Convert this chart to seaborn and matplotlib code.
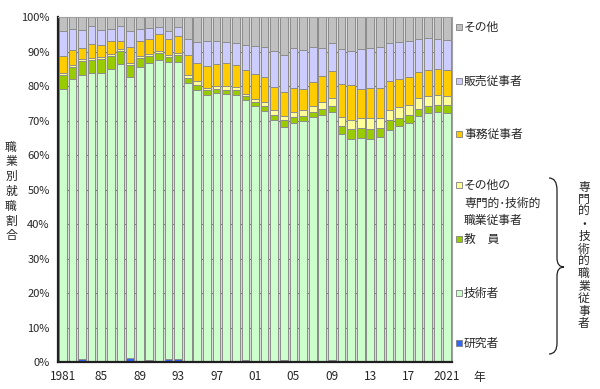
import numpy as np
import pandas as pd
import matplotlib
matplotlib.use("Agg")
import matplotlib.pyplot as plt
from matplotlib.patches import Rectangle, PathPatch
from matplotlib.path import Path
import seaborn as sns

# ---------- data (shares in %) ----------
years = list(range(1981, 2022))

researchers = [0.4, 0.3, 0.8, 0.3, 0.1, 0.1, 0.2, 1.3, 0.4, 0.6, 0.3, 0.8, 0.8, 0.4,
               0.2, 0.2, 0.2, 0.4, 0.4, 0.5, 0.3, 0.4, 0.4, 0.5, 0.3, 0.3, 0.4, 0.3,
               0.6, 0.2, 0.2, 0.2, 0.2, 0.2, 0.2, 0.2, 0.2, 0.3, 0.3, 0.2, 0.2]
engineers = [78.8, 81.9, 82.5, 83.5, 83.7, 84.9, 86.2, 81.5, 85.3, 86.1, 87.2, 86.1, 86.3, 80.6,
             78.7, 77.2, 77.8, 77.3, 77.2, 75.5, 73.9, 72.4, 69.7, 67.7, 69.1, 69.5, 70.7, 71.5,
             71.9, 65.8, 64.6, 64.8, 64.5, 65.1, 67.2, 68.2, 69.2, 71.0, 71.8, 72.3, 72.1]
teachers = [4.0, 3.4, 3.9, 3.9, 4.2, 3.7, 3.8, 3.3, 2.6, 2.1, 2.1, 1.5, 2.0, 1.5,
            1.5, 1.4, 1.3, 1.3, 1.2, 1.1, 1.1, 1.4, 1.7, 1.9, 1.7, 1.7, 1.3, 1.6,
            1.7, 2.6, 2.8, 2.9, 2.9, 2.6, 2.7, 2.4, 2.4, 2.2, 2.1, 2.0, 2.2]
other_prof = [0.6, 0.6, 0.6, 0.6, 0.6, 0.6, 0.5, 0.6, 0.6, 0.6, 0.6, 0.6, 0.5, 0.7,
              1.0, 0.8, 0.8, 1.0, 0.9, 0.7, 1.0, 1.1, 1.4, 1.4, 1.5, 1.7, 1.8, 1.9,
              2.4, 2.5, 2.7, 2.9, 3.2, 2.9, 2.9, 3.2, 2.9, 3.1, 3.0, 3.0, 2.7]
clerical = [5.0, 4.2, 3.2, 3.9, 3.3, 3.7, 2.4, 4.6, 4.2, 4.2, 5.0, 4.6, 5.1, 6.0,
            5.3, 6.4, 6.3, 6.7, 6.5, 7.0, 7.3, 7.4, 6.6, 6.7, 6.9, 6.1, 6.9, 7.8,
            7.7, 9.6, 10.1, 8.4, 8.7, 8.7, 8.4, 8.1, 8.0, 7.4, 7.6, 7.4, 7.6]
sales = [7.1, 6.1, 5.3, 5.3, 4.4, 3.5, 4.5, 4.6, 3.4, 3.2, 2.1, 2.4, 2.4, 4.4,
         6.1, 7.2, 6.7, 6.2, 6.3, 7.2, 8.1, 8.8, 10.3, 10.9, 11.5, 11.1, 10.2, 8.1,
         8.2, 10.0, 9.9, 11.5, 11.7, 12.0, 11.1, 10.6, 10.3, 9.6, 9.1, 8.7, 8.6]
others = [4.1, 3.5, 3.7, 2.5, 3.7, 3.5, 2.4, 4.1, 3.5, 3.2, 2.7, 4.0, 2.9, 6.4,
          7.2, 6.8, 6.9, 7.1, 7.5, 8.0, 8.3, 8.5, 9.9, 10.9, 9.0, 9.6, 8.7, 8.8,
          7.5, 9.3, 9.7, 9.3, 8.8, 8.5, 7.5, 7.3, 7.0, 6.4, 6.1, 6.4, 6.6]

tick_years = [1981, 1985, 1989, 1993, 1997, 2001, 2005, 2009, 2013, 2017, 2021]
tick_labels = ["1981", "85", "89", "93", "97", "01", "05", "09", "13", "17", "2021"]

series_names = ["研究者", "技術者", "教　員", "その他専門", "事務従事者", "販売従事者", "その他"]
colors = ["#3366FF", "#CCFFCC", "#99CC00", "#FFFF99", "#FFCC00", "#CCCCFF", "#C0C0C0"]

# ---------- setup ----------
sns.set_style("white")
plt.rcParams["font.family"] = ["Noto Sans CJK JP", "DejaVu Sans"]

W, H = 600, 389


def fx(x):
    return x / W


def fy(y):
    return 1 - y / H


df = pd.DataFrame({
    "year": [str(y) for y in years],
    "研究者": researchers,
    "技術者": engineers,
    "教　員": teachers,
    "その他専門": other_prof,
    "事務従事者": clerical,
    "販売従事者": sales,
    "その他": others,
})
tops = df[series_names].cumsum(axis=1)

fig = plt.figure(figsize=(W / 100, H / 100), dpi=100)
ax = fig.add_axes([fx(58), fy(362), fx(452) - fx(58), fy(17.3) - fy(362)])
ax.set_facecolor("#DADADA")

# stacked bars: draw cumulative tops from the tallest down
for name, color in reversed(list(zip(series_names, colors))):
    sns.barplot(x=df["year"], y=tops[name], color=color, saturation=1,
                width=0.8, edgecolor="#8C8C8C", linewidth=0.7,
                errorbar=None, ax=ax, zorder=2)

ax.set_xlim(-0.5, len(years) - 0.5)
ax.set_ylim(0, 100)
ax.set_yticks(np.arange(0, 101, 10))
ax.set_yticklabels([f"{v}%" for v in range(0, 101, 10)], fontsize=8)
ax.set_xticks([years.index(y) for y in tick_years])
ax.set_xticklabels(tick_labels, fontsize=8.5)
ax.tick_params(axis="x", length=0, pad=6)
ax.tick_params(axis="y", length=4, width=0.8, color="#808080", pad=2)
ax.set_xlabel("")
ax.set_ylabel("")
ax.yaxis.grid(True, color="#808080", lw=0.8)
ax.set_axisbelow(True)

for side in ["top", "right"]:
    ax.spines[side].set_color("#A0A0A0")
    ax.spines[side].set_linewidth(0.8)
for side in ["left", "bottom"]:
    ax.spines[side].set_color("#202020")
    ax.spines[side].set_linewidth(1.6)

fig.text(fx(479), fy(377), "年", fontsize=8.5, ha="center", va="center")

# vertical y label
for i, ch in enumerate("職業別就職割合"):
    fig.text(fx(11), fy(147 + i * 14.8), ch, fontsize=8.5, ha="center", va="center")

# ---------- legend ----------
legend_items = [
    ("その他", 27, colors[6]),
    ("販売従事者", 81, colors[5]),
    ("事務従事者", 134, colors[4]),
    ("その他の", 185, colors[3]),
    ("教　員", 239, colors[2]),
    ("技術者", 293, colors[1]),
    ("研究者", 343, colors[0]),
]
for label, y, color in legend_items:
    fig.patches.append(Rectangle((fx(456), fy(y + 3)), fx(6), 6 / H,
                                 facecolor=color, edgecolor="#808080", lw=0.6,
                                 transform=fig.transFigure))
    fig.text(fx(464), fy(y), label, fontsize=8.5, ha="left", va="center")
fig.text(fx(464), fy(203), "専門的･技術的", fontsize=8.5, ha="left", va="center")
fig.text(fx(464), fy(220), "職業従事者", fontsize=8.5, ha="left", va="center")

# brace
verts = [(549, 178), (557, 178), (557, 190), (557, 258), (557, 267), (564, 267),
         (557, 267), (557, 276), (557, 343), (557, 354), (549, 354)]
codes = [Path.MOVETO, Path.CURVE3, Path.CURVE3, Path.LINETO, Path.CURVE3, Path.CURVE3,
         Path.CURVE3, Path.CURVE3, Path.LINETO, Path.CURVE3, Path.CURVE3]
brace = Path([(fx(x), fy(y)) for x, y in verts], codes)
fig.patches.append(PathPatch(brace, facecolor="none", edgecolor="#202020", lw=0.9,
                             transform=fig.transFigure))

for i, ch in enumerate("専門的・技術的職業従事者"):
    fig.text(fx(584), fy(187 + i * 12.4), ch, fontsize=8.5, ha="center", va="center")

fig.savefig("out.png", dpi=100)
